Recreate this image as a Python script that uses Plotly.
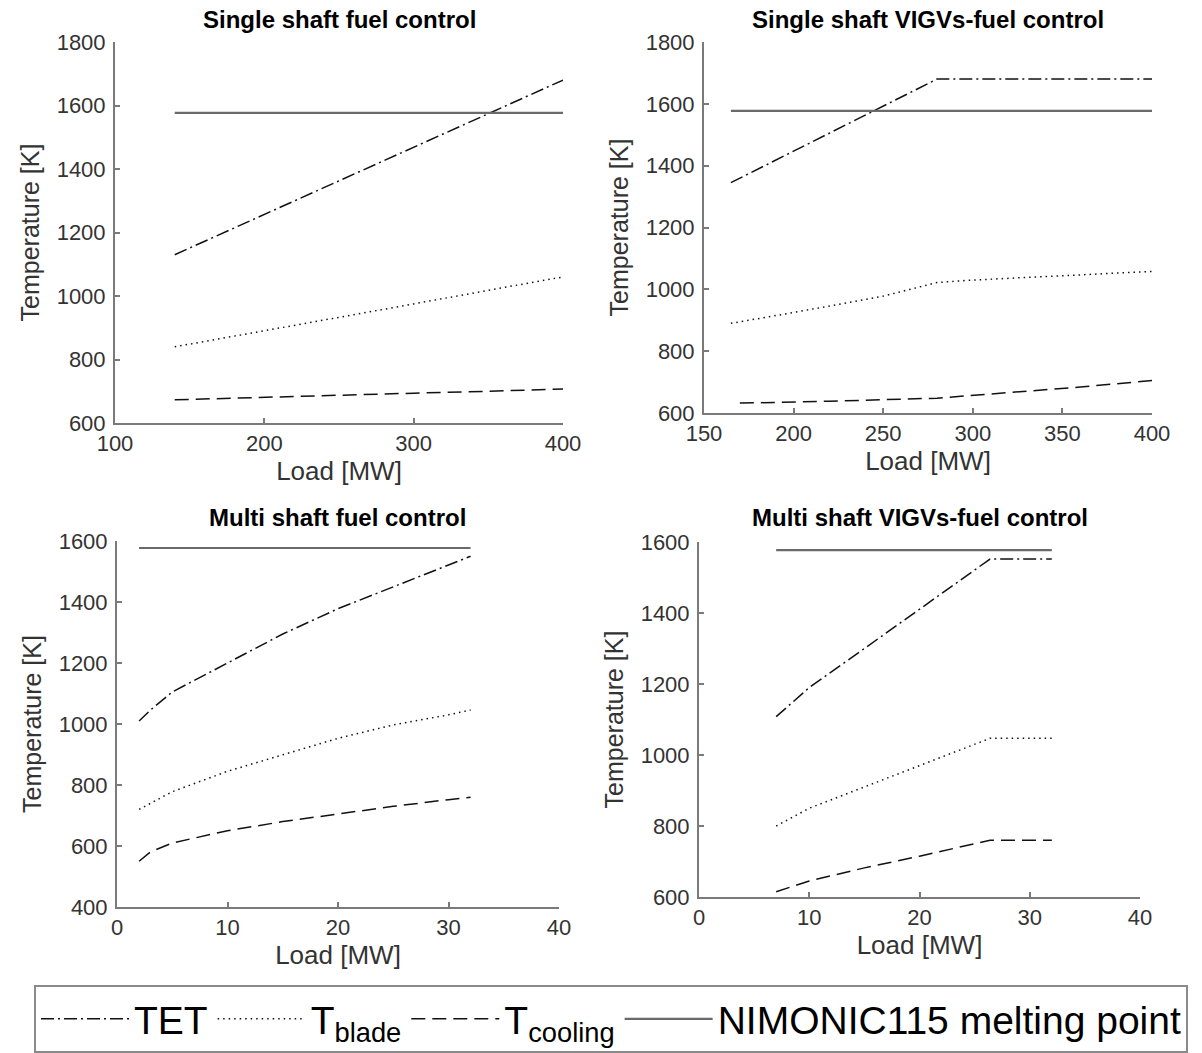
import plotly.graph_objects as go

W, H = 1202, 1053

# ---- data -------------------------------------------------------------
melting_point = 1577  # NIMONIC 115 melting point [K]

# Single shaft, fuel control
ss_fuel_load = [140, 200, 250, 300, 350, 400]
ss_fuel_tet = [1130, 1257, 1362, 1468, 1575, 1680]
ss_fuel_blade = [840, 890, 932, 975, 1018, 1060]
ss_fuel_cool = [673, 680, 687, 694, 700, 707]

# Single shaft, VIGVs-fuel control
ss_vigv_load_tet = [165, 280, 400]
ss_vigv_tet = [1345, 1680, 1680]
ss_vigv_load_blade = [165, 200, 250, 280, 300, 350, 400]
ss_vigv_blade = [890, 925, 978, 1022, 1030, 1045, 1058]
ss_vigv_load_cool = [170, 220, 280, 320, 360, 400]
ss_vigv_cool = [632, 638, 648, 665, 684, 705]
ss_vigv_load_melt = [165, 400]

# Multi shaft, fuel control
ms_fuel_load_tet = [2, 3, 5, 10, 15, 20, 25, 30, 32]
ms_fuel_tet = [1010, 1045, 1105, 1200, 1295, 1378, 1450, 1520, 1550]
ms_fuel_load_blade = [2, 5, 10, 15, 20, 25, 30, 32]
ms_fuel_blade = [720, 778, 845, 898, 953, 997, 1030, 1046]
ms_fuel_load_cool = [2, 3, 5, 10, 15, 20, 25, 30, 32]
ms_fuel_cool = [550, 580, 610, 650, 680, 705, 730, 752, 760]

# Multi shaft, VIGVs-fuel control
ms_vigv_load = [7, 10, 15, 20, 26.4, 32]
ms_vigv_tet = [1108, 1190, 1300, 1410, 1552, 1552]
ms_vigv_blade = [800, 850, 910, 970, 1047, 1047]
ms_vigv_cool = [615, 645, 682, 715, 760, 760]

panel_titles = [
    "Single shaft fuel control",
    "Single shaft VIGVs-fuel control",
    "Multi shaft fuel control",
    "Multi shaft VIGVs-fuel control",
]
series_names = ["TET", "T<sub>blade</sub>", "T<sub>cooling</sub>",
                "NIMONIC115 melting point"]

# ---- styling ----------------------------------------------------------
FONT = "Liberation Sans, Arial, sans-serif"
AX_GREY = "#7a7a7a"
TXT_GREY = "#333333"
styles = [
    dict(color="#111111", width=1.5, dash="13px,4px,2px,4px"),
    dict(color="#111111", width=1.5, dash="1.5px,4px"),
    dict(color="#111111", width=1.5, dash="14px,7px"),
    dict(color="#6a6a6a", width=2.2, dash="solid"),
]

# plot areas in pixels: (left, right, top, bottom)
boxes = [
    (115, 563, 42, 423),
    (704, 1152, 42, 413),
    (117, 559, 541, 907),
    (699, 1140, 542, 897),
]
x_ranges = [[100, 400], [150, 400], [0, 40], [0, 40]]
x_dticks = [100, 50, 10, 10]
y_ranges = [[600, 1800], [600, 1800], [400, 1600], [600, 1600]]

panels = [
    [(ss_fuel_load, ss_fuel_tet), (ss_fuel_load, ss_fuel_blade),
     (ss_fuel_load, ss_fuel_cool),
     ([ss_fuel_load[0], ss_fuel_load[-1]], [melting_point] * 2)],
    [(ss_vigv_load_tet, ss_vigv_tet), (ss_vigv_load_blade, ss_vigv_blade),
     (ss_vigv_load_cool, ss_vigv_cool),
     (ss_vigv_load_melt, [melting_point] * 2)],
    [(ms_fuel_load_tet, ms_fuel_tet), (ms_fuel_load_blade, ms_fuel_blade),
     (ms_fuel_load_cool, ms_fuel_cool),
     ([ms_fuel_load_tet[0], ms_fuel_load_tet[-1]], [melting_point] * 2)],
    [(ms_vigv_load, ms_vigv_tet), (ms_vigv_load, ms_vigv_blade),
     (ms_vigv_load, ms_vigv_cool),
     ([ms_vigv_load[0], ms_vigv_load[-1]], [melting_point] * 2)],
]

fig = go.Figure()
layout = {}
annotations = []
title_y = [20, 20, 517, 517]

for i, (box, series) in enumerate(zip(boxes, panels)):
    n = "" if i == 0 else str(i + 1)
    left, right, top, bottom = box
    xa = dict(
        domain=[left / W, right / W], anchor="y" + n,
        range=x_ranges[i], dtick=x_dticks[i], tick0=0,
        showline=True, linecolor=AX_GREY, linewidth=2,
        ticks="inside", ticklen=5, tickwidth=1.5, tickcolor=AX_GREY,
        showgrid=False, zeroline=False, automargin=False,
        tickfont=dict(family=FONT, size=22, color=TXT_GREY),
        title=dict(text="Load [MW]", standoff=5,
                   font=dict(family=FONT, size=26, color=TXT_GREY)),
    )
    ya = dict(
        domain=[1 - bottom / H, 1 - top / H], anchor="x" + n,
        range=y_ranges[i], dtick=200,
        showline=True, linecolor=AX_GREY, linewidth=2,
        ticks="inside", ticklen=5, tickwidth=1.5, tickcolor=AX_GREY,
        showgrid=False, zeroline=False, automargin=False,
        tickfont=dict(family=FONT, size=22, color=TXT_GREY),
        ticklabelstandoff=3,
        title=dict(text="Temperature [K]", standoff=10,
                   font=dict(family=FONT, size=25, color=TXT_GREY)),
    )
    layout["xaxis" + n] = xa
    layout["yaxis" + n] = ya

    for k, (xs, ys) in enumerate(series):
        fig.add_trace(go.Scatter(
            x=xs, y=ys, mode="lines", name=series_names[k],
            line=styles[k], showlegend=(i == 0),
            xaxis="x" + n, yaxis="y" + n,
        ))

    annotations.append(dict(
        text="<b>" + panel_titles[i] + "</b>", xref="paper", yref="paper",
        x=(left + right) / 2 / W, y=1 - title_y[i] / H,
        xanchor="center", yanchor="middle", showarrow=False,
        font=dict(family=FONT, size=24, color="#000000"),
    ))

fig.update_layout(
    **layout,
    width=W, height=H,
    margin=dict(l=0, r=0, t=0, b=0),
    paper_bgcolor="white", plot_bgcolor="white",
    annotations=annotations,
    showlegend=True,
    legend=dict(
        orientation="h", x=34 / W, y=1 - 985 / H,
        xanchor="left", yanchor="top",
        bordercolor="#8a8a8a", borderwidth=2, bgcolor="white",
        font=dict(family=FONT, size=39, color="#000000"),
        itemwidth=88, traceorder="normal",
    ),
)

fig.write_html("out.html")
